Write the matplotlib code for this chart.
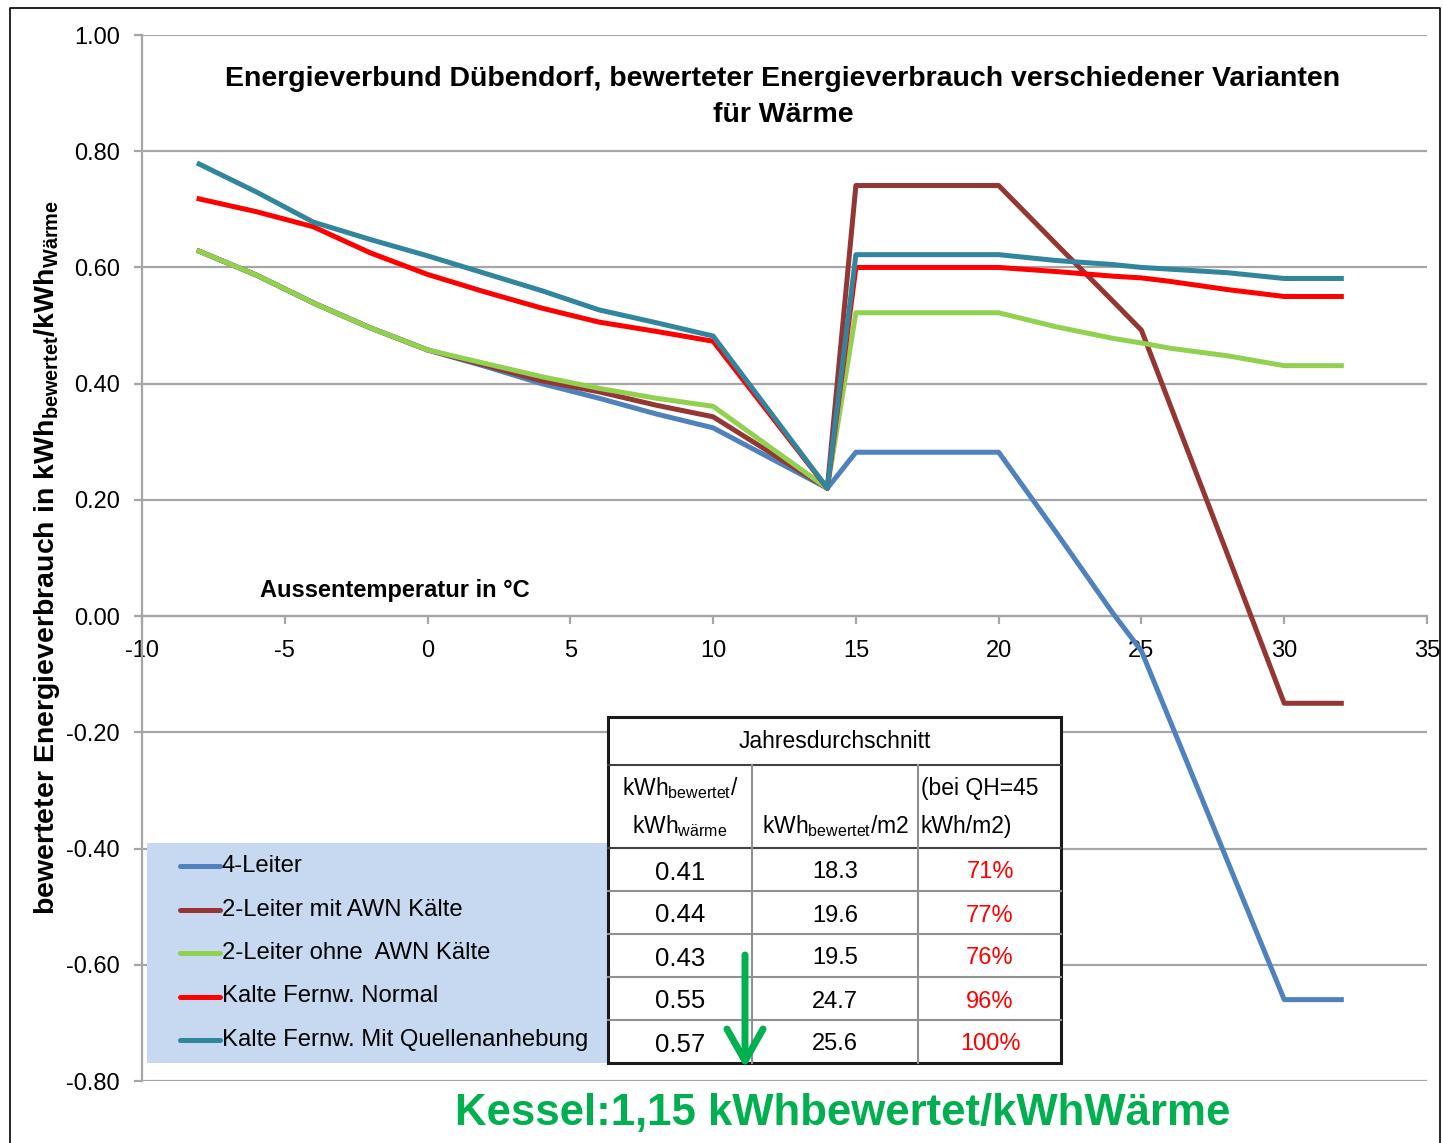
import matplotlib
matplotlib.use("Agg")
import matplotlib.pyplot as plt
from matplotlib.patches import Rectangle

plt.rcParams['font.family'] = ['Liberation Sans', 'DejaVu Sans']
plt.rcParams['axes.unicode_minus'] = False

# Aussentemperatur (deg C)
temps = [-8, -6, -4, -2, 0, 2, 4, 6, 8, 10, 14, 15, 20, 22, 24, 25, 26, 28, 30, 32]

leiter4 = [0.628, 0.587, 0.539, 0.496, 0.458, 0.430, 0.400, 0.375, 0.348, 0.324, 0.220,
           0.282, 0.282, 0.145, 0.005, -0.060, -0.180, -0.420, -0.660, -0.660]
leiter2_mit = [0.628, 0.587, 0.539, 0.496, 0.458, 0.432, 0.405, 0.386, 0.363, 0.343, 0.220,
               0.741, 0.741, 0.641, 0.542, 0.492, 0.364, 0.108, -0.150, -0.150]
leiter2_ohne = [0.628, 0.587, 0.539, 0.496, 0.458, 0.435, 0.412, 0.392, 0.375, 0.361, 0.220,
                0.522, 0.522, 0.498, 0.478, 0.470, 0.461, 0.448, 0.431, 0.431]
kf_normal = [0.718, 0.696, 0.670, 0.625, 0.588, 0.558, 0.530, 0.506, 0.490, 0.473, 0.220,
             0.600, 0.600, 0.593, 0.585, 0.582, 0.576, 0.562, 0.550, 0.550]
kf_quelle = [0.778, 0.730, 0.678, 0.648, 0.620, 0.590, 0.560, 0.527, 0.505, 0.482, 0.220,
             0.622, 0.622, 0.612, 0.605, 0.600, 0.597, 0.591, 0.581, 0.581]

series_names = ["4-Leiter", "2-Leiter mit AWN Kälte", "2-Leiter ohne  AWN Kälte",
                "Kalte Fernw. Normal", "Kalte Fernw. Mit Quellenanhebung"]
series_vals = [leiter4, leiter2_mit, leiter2_ohne, kf_normal, kf_quelle]
series_colors = ['#4f81bd', '#943634', '#92d050', '#ff0000', '#31859c']

# Tabelle Jahresdurchschnitt
tab_kwh_waerme = ["0.41", "0.44", "0.43", "0.55", "0.57"]
tab_kwh_m2 = ["18.3", "19.6", "19.5", "24.7", "25.6"]
tab_prozent = ["71%", "77%", "76%", "96%", "100%"]

W, H = 1443, 1143
fig = plt.figure(figsize=(W / 100, H / 100), dpi=100)
ax = fig.add_axes([142 / W, 1 - 1081 / H, (1427 - 142) / W, (1081 - 35) / H])

for vals, col in zip(series_vals, series_colors):
    ax.plot(temps, vals, color=col, lw=3.6, solid_joinstyle='round', zorder=3)

ax.set_xlim(-10, 35)
ax.set_ylim(-0.8, 1.0)
ax.set_xticks(range(-10, 36, 5))
ax.set_yticks([-0.8, -0.6, -0.4, -0.2, 0.0, 0.2, 0.4, 0.6, 0.8, 1.0])
ax.set_yticklabels(["%.2f" % v for v in ax.get_yticks()])
ax.grid(axis='y', color='#a6a6a6', lw=1.6, zorder=0)
ax.spines['bottom'].set_position(('data', 0))
ax.spines['top'].set_visible(False)
ax.spines['right'].set_visible(False)
ax.spines['left'].set_color('#a6a6a6')
ax.spines['bottom'].set_color('#a6a6a6')
ax.spines['left'].set_linewidth(1.6)
ax.spines['bottom'].set_linewidth(1.6)
ax.tick_params(axis='both', colors='#a6a6a6', width=1.6, length=6, labelcolor='black', labelsize=17)
ax.tick_params(axis='x', direction='out', pad=11)
ax.tick_params(axis='y', pad=10)

# overlay in pixel coordinates for titles, legend box, table and annotation
ov = fig.add_axes([0, 0, 1, 1])
ov.set_xlim(0, W)
ov.set_ylim(H, 0)
ov.axis('off')

ov.text(783, 97, "Energieverbund Dübendorf, bewerteter Energieverbrauch verschiedener Varianten\nfür Wärme",
        fontsize=20.5, fontweight='bold', ha='center', va='center', linespacing=1.45)
ov.text(395, 591, "Aussentemperatur in °C", fontsize=17, fontweight='bold', ha='center', va='center')

ov.text(47, 557, r"bewerteter Energieverbrauch in kWh$_{\mathregular{bewertet}}$/kWh$_{\mathregular{Wärme}}$",
        rotation=90, ha='center', va='center', fontsize=20.5, fontweight='bold')

# outer frame
ov.plot([10, 10, 1440, 1440], [1143, 8, 8, 1143], color='black', lw=1.2)

# legend box
ov.add_patch(Rectangle((147, 843), 460, 220, facecolor='#c6d9f1', edgecolor='none'))
for i, (name, col) in enumerate(zip(series_names, series_colors)):
    yy = 866 + i * 43.5
    ov.plot([180, 220], [yy, yy], color=col, lw=3.6, solid_capstyle='round')
    ov.text(222, yy, name, fontsize=17.2, va='center', ha='left')

# table
tx0, tx1, tx2, tx3 = 608, 752, 918, 1061
ty_top, ty_head, ty_sub = 717, 765, 848
row_h = 43
ov.add_patch(Rectangle((tx0, ty_top), tx3 - tx0, 1063 - ty_top, facecolor='white', edgecolor='none'))
ov.plot([tx0, tx3], [ty_head, ty_head], color='#404040', lw=1.5)
ov.plot([tx0, tx3], [ty_sub, ty_sub], color='#404040', lw=1.5)
for r in range(1, 5):
    yy = ty_sub + r * row_h
    ov.plot([tx0, tx3], [yy, yy], color='#909090', lw=1.5)
for xx in (tx1, tx2):
    ov.plot([xx, xx], [ty_head, 1063], color='#909090', lw=1.5)
ov.add_patch(Rectangle((tx0, ty_top), tx3 - tx0, 1063 - ty_top, facecolor='none', edgecolor='#1a1a1a', lw=2.2))

ov.text((tx0 + tx3) / 2, 742, "Jahresdurchschnitt", fontsize=16.5, ha='center', va='center')
ov.text(680, 788, r"kWh$_{\mathregular{bewertet}}$/", fontsize=16.5, ha='center', va='center')
ov.text(680, 826, r"kWh$_{\mathregular{wärme}}$", fontsize=16.5, ha='center', va='center')
ov.text(835, 826, r"kWh$_{\mathregular{bewertet}}$/m2", fontsize=16.5, ha='center', va='center')
ov.text(921, 788, "(bei QH=45", fontsize=16.5, ha='left', va='center')
ov.text(921, 826, "kWh/m2)", fontsize=16.5, ha='left', va='center')
for r in range(5):
    yy = ty_sub + r * row_h + row_h / 2 + 3
    ov.text(680, yy, tab_kwh_waerme[r], fontsize=18.5, ha='center', va='center')
    ov.text(835, yy, tab_kwh_m2[r], fontsize=17, ha='center', va='center')
    ov.text(990, yy, tab_prozent[r], fontsize=17, ha='center', va='center', color='#ff0000')

# green arrow and boiler note
ov.annotate("", xy=(745, 1068), xytext=(745, 955),
            arrowprops=dict(arrowstyle='->,head_length=2.3,head_width=1.3', color='#00b050', lw=5,
                            mutation_scale=10, shrinkA=0, shrinkB=0))
ov.text(843, 1113, "Kessel:1,15 kWhbewertet/kWhWärme", fontsize=31.5, fontweight='bold',
        color='#00b050', ha='center', va='center')

fig.savefig("out.png", dpi=100)
